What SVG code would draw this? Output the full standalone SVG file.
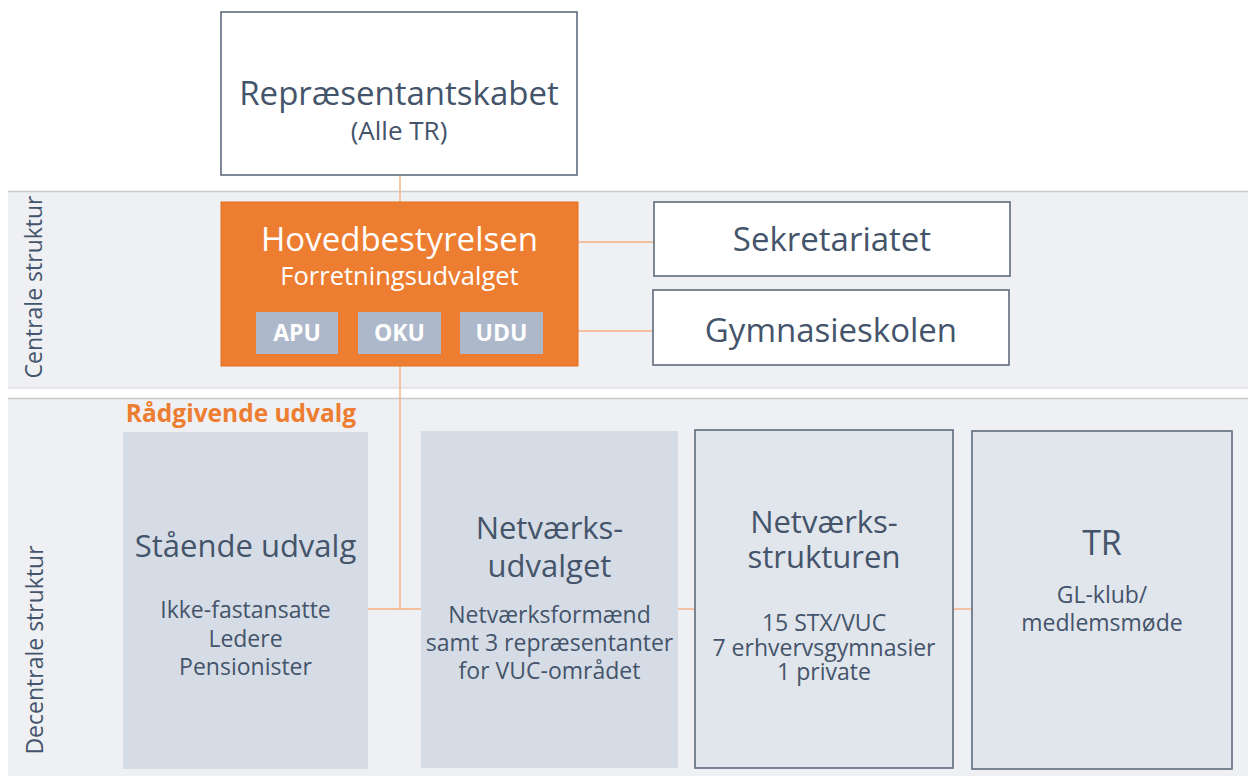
<svg xmlns="http://www.w3.org/2000/svg" width="1248" height="776" viewBox="0 0 1248 776">
<style>
text{font-family:"Open Sans","Noto Sans","Liberation Sans",sans-serif;fill:#44546A;text-anchor:middle}
.band{fill:#EEF0F4}
.bandline{stroke:#C8CACE;stroke-width:1.5}
.white{fill:#FFFFFF;stroke:#5E6B7D;stroke-width:1.6}
.solid{fill:#D6DCE5}
.outl{fill:#E1E5EC;stroke:#5E6B7D;stroke-width:1.6}
.conn{stroke:#F4B183;stroke-width:1.4;fill:none}
.big{font-size:33px}
.mid{font-size:31px}
.sub{font-size:23px}
.side{font-size:23px}
.tag{fill:#ADB9CA}
.tagt{font-size:23px;font-weight:bold;fill:#FFFFFF}
</style>
<rect width="1248" height="776" fill="#FFFFFF"/>
<g id="band-central">
<rect class="band" x="8" y="191" width="1240" height="197"/>
<line class="bandline" x1="8" y1="191.5" x2="1248" y2="191.5"/>
<line class="bandline" x1="8" y1="388" x2="1248" y2="388" stroke-opacity="0.5"/>
<text class="side" transform="translate(42,287) rotate(-90)">Centrale struktur</text>
</g>
<g id="band-decentral">
<rect class="band" x="8" y="398" width="1240" height="378"/>
<line class="bandline" x1="8" y1="398.5" x2="1248" y2="398.5"/>
<text class="side" transform="translate(43,650) rotate(-90)">Decentrale struktur</text>
</g>
<g id="connectors">
<line class="conn" x1="400" y1="175" x2="400" y2="202"/>
<line class="conn" x1="400" y1="366" x2="400" y2="609"/>
<line class="conn" x1="368" y1="609" x2="421" y2="609"/>
<line class="conn" x1="678" y1="609" x2="695" y2="609"/>
<line class="conn" x1="953" y1="609" x2="972" y2="609"/>
<line class="conn" x1="578" y1="242" x2="654" y2="242"/>
<line class="conn" x1="578" y1="331" x2="653" y2="331"/>
</g>
<g id="repraesentantskabet">
<rect class="white" x="221" y="12" width="356" height="163"/>
<text class="big" x="399" y="105">Repræsentantskabet</text>
<text font-size="26" x="399" y="140">(Alle TR)</text>
</g>
<g id="hovedbestyrelsen">
<rect x="221" y="202" width="357" height="164" fill="#ED7D31" stroke="#E07020" stroke-width="1"/>
<text class="big" x="399.5" y="251" style="fill:#FFFFFF">Hovedbestyrelsen</text>
<text x="399.5" y="285" font-size="25.5" style="fill:#FFFFFF">Forretningsudvalget</text>
<g id="apu"><rect class="tag" x="256" y="312" width="82" height="42"/><text class="tagt" x="297" y="341">APU</text></g>
<g id="oku"><rect class="tag" x="358" y="312" width="83" height="42"/><text class="tagt" x="399.5" y="341">OKU</text></g>
<g id="udu"><rect class="tag" x="460" y="312" width="83" height="42"/><text class="tagt" x="501.5" y="341">UDU</text></g>
</g>
<g id="sekretariatet">
<rect class="white" x="654" y="202" width="356" height="74"/>
<text class="big" x="832" y="251">Sekretariatet</text>
</g>
<g id="gymnasieskolen">
<rect class="white" x="653" y="290" width="356" height="75"/>
<text class="big" x="831" y="342">Gymnasieskolen</text>
</g>
<g id="raadgivende-label">
<text x="241" y="422" font-size="24.5" font-weight="bold" style="fill:#ED7D31">Rådgivende udvalg</text>
</g>
<g id="staaende-udvalg">
<rect class="solid" x="123" y="432" width="245" height="337"/>
<text class="mid" x="245.5" y="557">Stående udvalg</text>
<text class="sub" x="245.5" y="618">Ikke-fastansatte</text>
<text class="sub" x="245.5" y="647">Ledere</text>
<text class="sub" x="245.5" y="675">Pensionister</text>
</g>
<g id="netvaerksudvalget">
<rect class="solid" x="421" y="431" width="257" height="337"/>
<text class="mid" x="549.5" y="539">Netværks-</text>
<text class="mid" x="549.5" y="577">udvalget</text>
<text class="sub" x="549.5" y="623">Netværksformænd</text>
<text class="sub" x="549.5" y="651">samt 3 repræsentanter</text>
<text class="sub" x="549.5" y="679">for VUC-området</text>
</g>
<g id="netvaerksstrukturen">
<rect class="outl" x="695" y="430" width="258" height="338"/>
<text class="mid" x="824" y="533">Netværks-</text>
<text class="mid" x="824" y="568">strukturen</text>
<text class="sub" x="824" y="631">15 STX/VUC</text>
<text class="sub" x="824" y="656">7 erhvervsgymnasier</text>
<text class="sub" x="824" y="680">1 private</text>
</g>
<g id="tr">
<rect class="outl" x="972" y="431" width="260" height="338"/>
<text x="1102" y="555" font-size="34">TR</text>
<text class="sub" x="1102" y="603">GL-klub/</text>
<text class="sub" x="1102" y="631">medlemsmøde</text>
</g>
</svg>
